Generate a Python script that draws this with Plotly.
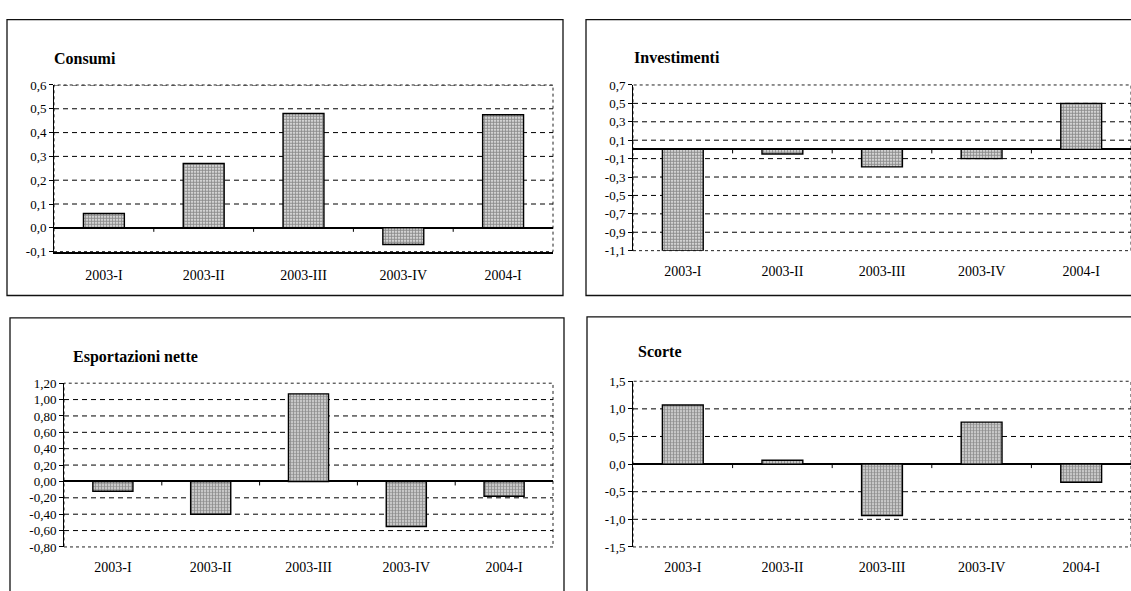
import plotly.graph_objects as go

# Quarterly contributions (percentage points)
quarters = ["2003-I", "2003-II", "2003-III", "2003-IV", "2004-I"]

consumi = [0.06, 0.27, 0.48, -0.07, 0.475]
investimenti = [-1.1, -0.05, -0.19, -0.10, 0.50]
esportazioni_nette = [-0.12, -0.40, 1.07, -0.55, -0.18]
scorte = [1.07, 0.07, -0.93, 0.76, -0.33]

consumi_ticks = [-0.1, 0.0, 0.1, 0.2, 0.3, 0.4, 0.5, 0.6]
consumi_labels = ["-0,1", "0,0", "0,1", "0,2", "0,3", "0,4", "0,5", "0,6"]
investimenti_ticks = [-1.1, -0.9, -0.7, -0.5, -0.3, -0.1, 0.1, 0.3, 0.5, 0.7]
investimenti_labels = ["-1,1", "-0,9", "-0,7", "-0,5", "-0,3", "-0,1", "0,1", "0,3", "0,5", "0,7"]
esportazioni_ticks = [-0.8, -0.6, -0.4, -0.2, 0.0, 0.2, 0.4, 0.6, 0.8, 1.0, 1.2]
esportazioni_labels = ["-0,80", "-0,60", "-0,40", "-0,20", "0,00", "0,20", "0,40",
                       "0,60", "0,80", "1,00", "1,20"]
scorte_ticks = [-1.5, -1.0, -0.5, 0.0, 0.5, 1.0, 1.5]
scorte_labels = ["-1,5", "-1,0", "-0,5", "0,0", "0,5", "1,0", "1,5"]

W, H = 1131, 591
FONT = "Liberation Serif"


def px_x(v):
    return v / W


def px_y(v):
    return 1 - v / H


# title, values, ticks, labels, plot box (left, top, right, bottom px),
# panel frame (left, top, right, bottom px), title position, solid bottom axis
panels = [
    dict(title="Consumi", values=consumi, ticks=consumi_ticks, labels=consumi_labels,
         plot=(54, 80, 553, 251), frame=(7, 13, 563, 296), title_pos=(52, 53),
         solid_bottom=True, dashed_top=True),
    dict(title="Investimenti", values=investimenti, ticks=investimenti_ticks,
         labels=investimenti_labels,
         plot=(633, 80, 1131, 250), frame=(586, 13, 1150, 296), title_pos=(632, 52),
         solid_bottom=False, dashed_top=False),
    dict(title="Esportazioni nette", values=esportazioni_nette, ticks=esportazioni_ticks,
         labels=esportazioni_labels,
         plot=(64, 386, 553, 554), frame=(10, 319, 564, 610), title_pos=(71, 359),
         solid_bottom=False, dashed_top=False),
    dict(title="Scorte", values=scorte, ticks=scorte_ticks, labels=scorte_labels,
         plot=(633, 384, 1131, 554), frame=(587, 318, 1150, 610), title_pos=(636, 353),
         solid_bottom=False, dashed_top=False),
]

fig = go.Figure()
shapes = []
annotations = []
layout_axes = {}

for i, p in enumerate(panels, start=1):
    xa = "x" if i == 1 else f"x{i}"
    ya = "y" if i == 1 else f"y{i}"
    xkey = "xaxis" if i == 1 else f"xaxis{i}"
    ykey = "yaxis" if i == 1 else f"yaxis{i}"
    l, t, r, b = p["plot"]

    fig.add_trace(go.Bar(
        x=quarters, y=p["values"], xaxis=xa, yaxis=ya, width=0.41,
        marker=dict(
            color="white",
            line=dict(color="black", width=1.4),
            pattern=dict(shape=".", fgcolor="#1e1e1e", bgcolor="white",
                         size=3, solidity=0.7),
        ),
        hoverinfo="skip",
    ))

    layout_axes[xkey] = dict(
        domain=[px_x(l), px_x(r)], anchor=ya, type="category",
        range=[-0.5, len(quarters) - 0.5], showgrid=False, zeroline=False,
        showline=p["solid_bottom"], linecolor="black", linewidth=1.6,
        ticks="", ticklabelstandoff=10,
        tickfont=dict(family=FONT, size=14, color="black"),
        fixedrange=True,
    )
    layout_axes[ykey] = dict(
        domain=[px_y(b), px_y(t)], anchor=xa,
        range=[p["ticks"][0], p["ticks"][-1]],
        tickmode="array", tickvals=p["ticks"], ticktext=p["labels"],
        showgrid=False, zeroline=True, zerolinecolor="black", zerolinewidth=1.6,
        showline=True, linecolor="black", linewidth=1,
        ticks="outside", ticklen=4, tickcolor="black", tickwidth=1,
        tickfont=dict(family=FONT, size=13, color="black"),
        fixedrange=True,
    )

    # dotted plot-area border
    shapes.append(dict(type="rect", xref=f"{xa} domain", yref=f"{ya} domain",
                       x0=0, x1=1, y0=0, y1=1, layer="below",
                       line=dict(color="#222", width=1, dash="dot")))

    # dashed horizontal gridlines at the inner ticks
    inner = p["ticks"][1:] if p["dashed_top"] else p["ticks"][1:-1]
    for v in inner:
        if abs(v) < 1e-9:
            continue
        shapes.append(dict(type="line", xref=f"{xa} domain", yref=ya,
                           x0=0, x1=1, y0=v, y1=v, layer="below",
                           line=dict(color="black", width=1, dash="5px,4px")))

    # small ticks on the zero line between categories
    for k in range(len(quarters) - 1):
        shapes.append(dict(type="line", xref=xa, yref=ya, ysizemode="pixel",
                           yanchor=0, x0=k + 0.5, x1=k + 0.5, y0=0, y1=-4,
                           line=dict(color="black", width=1)))

    # outer frame of the panel
    fl, ft, fr, fb = p["frame"]
    shapes.append(dict(type="rect", xref="paper", yref="paper",
                       x0=px_x(fl), x1=px_x(fr), y0=px_y(fb), y1=px_y(ft),
                       line=dict(color="#111", width=1.3)))

    tx, ty = p["title_pos"]
    annotations.append(dict(text=f"<b>{p['title']}</b>", xref="paper", yref="paper",
                            x=px_x(tx), y=px_y(ty), xanchor="left", yanchor="middle",
                            showarrow=False,
                            font=dict(family=FONT, size=16, color="black")))

fig.update_layout(
    width=W, height=H,
    margin=dict(l=0, r=0, t=0, b=0),
    paper_bgcolor="white", plot_bgcolor="white",
    showlegend=False,
    shapes=shapes, annotations=annotations,
    **layout_axes,
)

fig.write_html("out.html")
